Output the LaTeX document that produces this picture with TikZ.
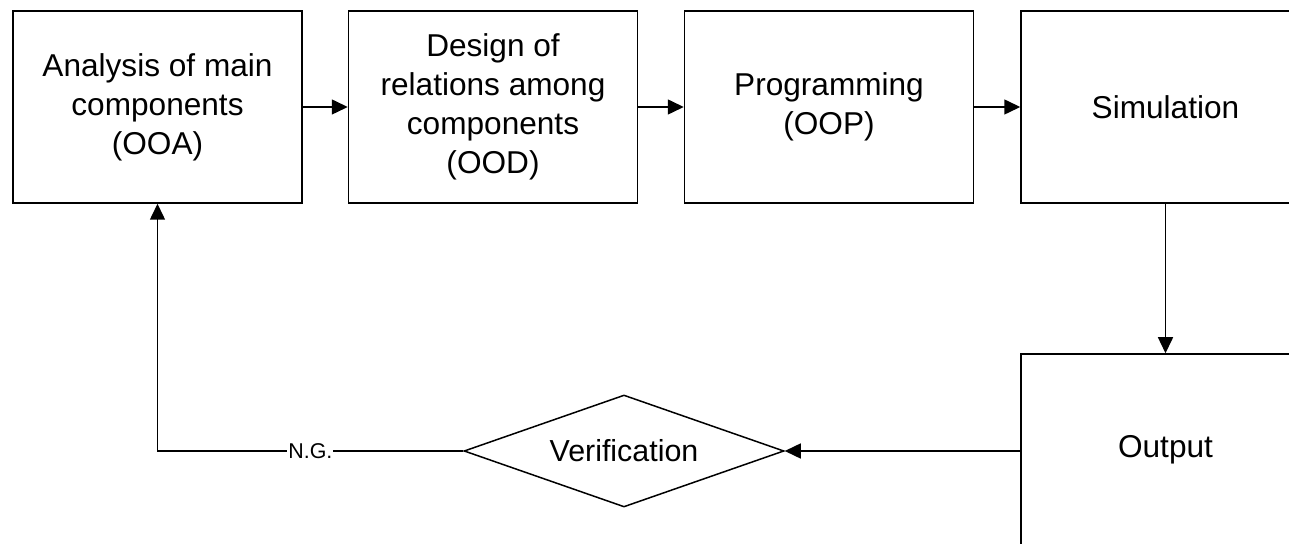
\documentclass[tikz,border=0pt]{standalone}
\usepackage{fontspec}
\setmainfont{Liberation Sans}
\usetikzlibrary{arrows.meta,shapes.geometric}
\begin{document}
\begin{tikzpicture}[x=0.5pt,y=-0.5pt,
  box/.style={draw,line width=0.75pt,minimum width=144.5pt,minimum height=96pt,
    inner sep=0pt,align=center,font=\fontsize{15.8}{19.5}\selectfont},
  decision/.style={draw,diamond,line width=0.75pt,aspect=2.86,inner sep=0pt,
    minimum width=160pt,minimum height=56pt,font=\fontsize{15.2}{18}\selectfont},
  arr/.style={line width=0.75pt,-{Triangle[length=8pt,width=7.5pt]}},
  lbl/.style={fill=white,inner sep=0.5pt,font=\fontsize{10.7}{12}\selectfont}]
\useasboundingbox (0,0) rectangle (1289,544);
\clip (0,0) rectangle (1289,544);
\fill[white] (0,0) rectangle (1289,544);

\node[box] (ooa) at (157.5,107) {Analysis of main\\components\\(OOA)};
\node[box] (ood) at (493,107) {Design of\\relations among\\components\\(OOD)};
\node[box] (oop) at (829,107) {Programming\\(OOP)};
\node[box] (sim) at (1165.5,107) {Simulation};
\node[box] (out) at (1165.5,450) {Output};
\node[decision] (ver) at (624,451) {Verification};

\draw[arr] (ooa.east) -- (ood.west);
\draw[arr] (ood.east) -- (oop.west);
\draw[arr] (oop.east) -- (sim.west);
\draw[arr] (sim.south) -- (out.north);
\draw[arr] (out.west |- ver.east) -- (ver.east);
\draw[arr] (ver.west) -- node[lbl] {N.G.} (ooa.south |- ver.west) -- (ooa.south);
\end{tikzpicture}
\end{document}
